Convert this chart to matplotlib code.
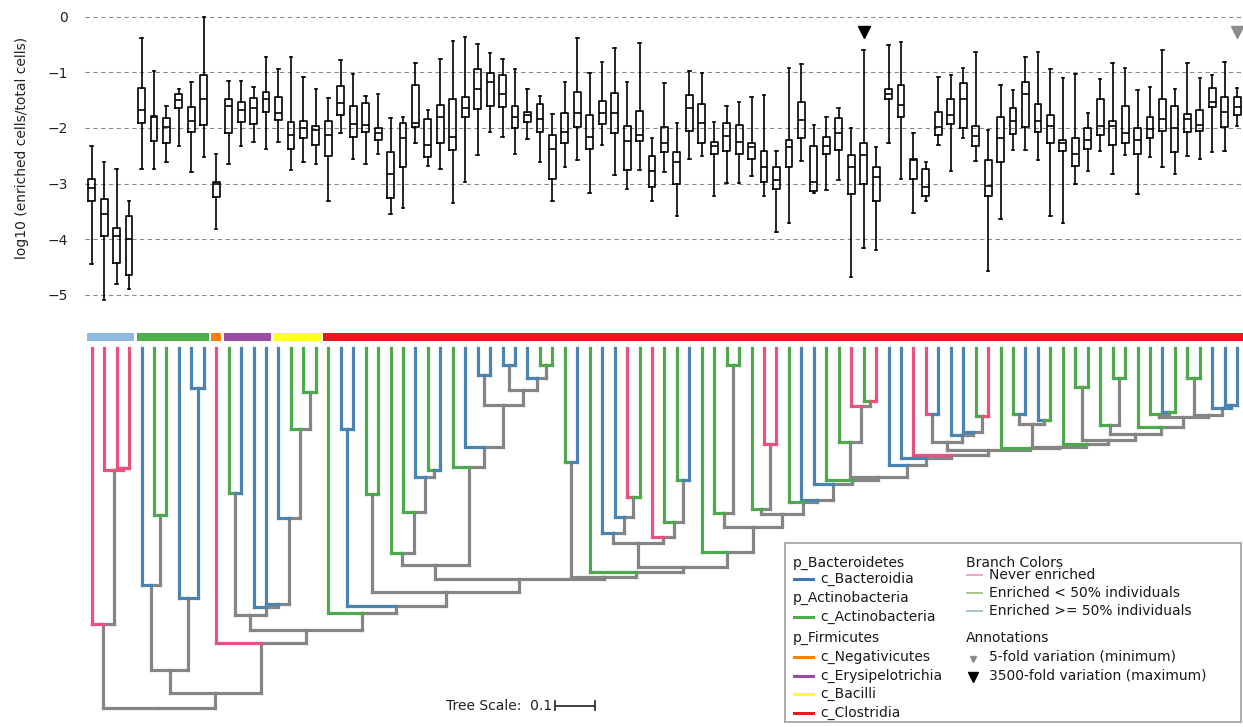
import numpy as np
import matplotlib.pyplot as plt

# ---- boxplot data (log10 enriched/total), one box per leaf, left to right ----
whis_hi = [-2.33, -2.62, -2.74, -3.31, -0.38, -0.97, -1.60, -1.30, -1.17, 0.00,
           -2.47, -1.16, -1.15, -1.26, -0.72, -0.94, -0.73, -1.09, -1.30, -1.46,
           -0.78, -1.04, -1.43, -1.40, -1.83, -1.81, -0.84, -1.68, -0.76, -0.44,
           -0.37, -0.49, -0.65, -0.77, -0.95, -1.31, -1.42, -1.75, -1.17, -0.39,
           -1.01, -0.81, -0.56, -1.17, -0.48, -2.18, -1.20, -1.92, -0.97, -1.02,
           -1.89, -1.61, -1.54, -1.44, -1.41, -2.41, -0.93, -0.86, -1.95, -1.81,
           -1.64, -2.00, -0.60, -2.34, -0.52, -0.45, -2.10, -2.62, -1.09, -1.05,
           -0.93, -0.63, -2.04, -1.23, -1.32, -0.73, -0.63, -0.94, -1.11, -1.03,
           -1.73, -1.12, -0.84, -0.93, -1.32, -1.27, -0.61, -1.31, -0.84, -1.10,
           -1.05, -0.81, -1.28]
q3 = [-2.91, -3.28, -3.80, -3.58, -1.29, -1.78, -1.82, -1.40, -1.62, -1.05,
      -2.98, -1.48, -1.54, -1.47, -1.36, -1.45, -1.89, -1.87, -1.97, -1.87,
      -1.24, -1.61, -1.56, -2.01, -2.43, -1.92, -1.23, -1.84, -1.58, -1.49,
      -1.45, -0.94, -1.01, -1.05, -1.61, -1.71, -1.57, -2.12, -1.73, -1.36,
      -1.76, -1.51, -1.38, -1.97, -1.69, -2.50, -1.99, -2.43, -1.41, -1.57,
      -2.26, -1.92, -1.95, -2.27, -2.41, -2.70, -2.22, -1.53, -2.32, -2.17,
      -1.83, -2.49, -2.27, -2.70, -1.31, -1.23, -2.56, -2.73, -1.72, -1.49,
      -1.20, -1.96, -2.57, -1.80, -1.65, -1.18, -1.57, -1.76, -2.21, -2.18,
      -2.01, -1.48, -1.88, -1.61, -2.00, -1.81, -1.49, -1.61, -1.75, -1.68,
      -1.29, -1.44, -1.44]
med = [-3.08, -3.55, -3.95, -4.00, -1.68, -1.80, -1.99, -1.50, -1.87, -1.49,
       -3.00, -1.61, -1.68, -1.64, -1.48, -1.73, -2.13, -2.01, -2.03, -2.13,
       -1.56, -1.93, -1.95, -2.09, -2.83, -2.19, -1.92, -2.31, -1.80, -2.17,
       -1.65, -1.31, -1.17, -1.40, -1.81, -1.77, -1.84, -2.37, -2.07, -1.74,
       -2.16, -1.74, -1.74, -2.23, -2.13, -2.77, -2.28, -2.62, -1.65, -1.91,
       -2.33, -2.14, -2.26, -2.34, -2.71, -2.94, -2.34, -1.86, -2.98, -2.32,
       -2.10, -2.71, -2.49, -2.89, -1.39, -1.59, -2.58, -3.07, -1.99, -1.77,
       -1.48, -2.15, -3.04, -2.19, -1.87, -1.40, -1.87, -1.96, -2.27, -2.47,
       -2.21, -1.96, -1.97, -2.09, -2.22, -2.02, -1.84, -2.00, -1.84, -1.94,
       -1.53, -1.72, -1.62]
q1 = [-3.32, -3.95, -4.42, -4.64, -1.92, -2.24, -2.28, -1.65, -2.07, -1.95,
      -3.24, -2.10, -1.89, -1.93, -1.71, -1.86, -2.37, -2.19, -2.31, -2.50,
      -1.76, -2.16, -2.07, -2.22, -3.25, -2.71, -1.98, -2.52, -2.27, -2.40,
      -1.81, -1.66, -1.61, -1.62, -2.01, -1.89, -2.07, -2.92, -2.27, -1.99,
      -2.37, -1.93, -2.10, -2.76, -2.24, -3.06, -2.44, -3.01, -2.05, -2.28,
      -2.47, -2.41, -2.47, -2.55, -2.98, -3.10, -2.71, -2.18, -3.14, -2.47,
      -2.40, -3.19, -3.00, -3.31, -1.49, -1.80, -2.92, -3.22, -2.12, -1.93,
      -2.00, -2.33, -3.22, -2.62, -2.11, -1.98, -2.08, -2.28, -2.41, -2.68,
      -2.37, -2.13, -2.31, -2.27, -2.47, -2.19, -2.05, -2.44, -2.07, -2.06,
      -1.63, -1.99, -1.77]
whis_lo = [-4.45, -5.09, -4.81, -4.90, -2.73, -2.73, -2.62, -2.33, -2.79, -2.52,
           -3.81, -2.64, -2.33, -2.26, -2.37, -2.25, -2.76, -2.62, -2.64, -3.32,
           -2.10, -2.56, -2.64, -2.47, -3.55, -3.43, -2.27, -2.68, -2.74, -3.35,
           -2.98, -2.49, -2.07, -2.17, -2.46, -2.20, -2.61, -3.31, -2.71, -2.58,
           -3.17, -2.30, -2.85, -3.10, -2.76, -3.32, -2.80, -3.58, -2.56, -2.50,
           -3.22, -2.99, -2.99, -2.86, -3.22, -3.87, -3.70, -2.59, -3.17, -3.11,
           -2.94, -4.68, -4.15, -4.20, -2.27, -2.92, -3.52, -3.32, -2.31, -2.77,
           -2.18, -2.59, -4.57, -3.64, -2.39, -2.39, -2.58, -3.58, -3.70, -3.01,
           -2.77, -2.41, -2.83, -2.49, -3.19, -2.53, -2.70, -2.83, -2.50, -2.55,
           -2.44, -2.41, -1.96]

# annotated leaves: (leaf index, marker colour)
min_fold_leaf = 92     # 5-fold variation (minimum)
max_fold_leaf = 62     # 3500-fold variation (maximum)

# ---- tree ----
# branch class of each leaf: n = never enriched, l = enriched < 50%, h = >= 50%
leaf_class = list("nnnn" "hllhhh" "n" "lhhh" "hlll"
                  "lhhll" "llhlhlhhhhhhll"
                  "lhlhhnlnllhlllllnnlhh"
                  "llnlnhhnnhhhln"
                  "llhhlllllllllhlllhhh")

# taxonomy bar: (class name, number of leaves)
taxa = [("c_Bacteroidia", 4), ("c_Actinobacteria", 6), ("c_Negativicutes", 1),
        ("c_Erysipelotrichia", 4), ("c_Bacilli", 4), ("c_Clostridia", 74)]
taxa_bar_colors = ["#8fbbe0", "#4daf4a", "#ff7f00", "#984ea3", "#ffff33", "#e41a1c"]

# internal nodes: (name, child, child, depth below leaf tips)
tree_nodes = [
    ("A", 2, 3, 0.298), ("B", 1, "A", 0.304), ("C", 0, "B", 0.689),
    ("D", 5, 6, 0.417), ("E", 4, "D", 0.592), ("F", 8, 9, 0.099),
    ("G", 7, "F", 0.624), ("H", "E", "G", 0.804),
    ("N", 11, 12, 0.361), ("S", 17, 18, 0.109), ("R", 16, "S", 0.202),
    ("Q", 15, "R", 0.424), ("T", 14, "Q", 0.639), ("O", 13, "T", 0.646),
    ("L", "N", "O", 0.667),
    ("U20", 20, 21, 0.202), ("U22", 22, 23, 0.363),
    ("P27", 27, 28, 0.304), ("P26", 26, "P27", 0.321), ("P25", 25, "P26", 0.409),
    ("P24", 24, "P25", 0.513),
    ("P31", 31, 32, 0.067), ("P33", 33, 34, 0.042), ("P36", 36, 37, 0.042),
    ("P35", 35, "P36", 0.073), ("P33b", "P33", "P35", 0.103),
    ("P31b", "P31", "P33b", 0.142), ("P30", 30, "P31b", 0.246),
    ("P29", 29, "P30", 0.296), ("Z1", "P24", "P29", 0.542),
    ("P38", 38, 39, 0.284),
    ("P43", 43, 44, 0.371), ("P42", 42, "P43", 0.421), ("P41", 41, "P42", 0.463),
    ("P47", 47, 48, 0.328), ("P46", 46, "P47", 0.434), ("P45", 45, "P46", 0.471),
    ("Q41", "P41", "P45", 0.488),
    ("P51", 51, 52, 0.042), ("P50", 50, "P51", 0.411),
    ("P54", 54, 55, 0.238), ("P53", 53, "P54", 0.402),
    ("P91", 91, 92, 0.142), ("P90", 90, "P91", 0.150), ("P88", 88, 89, 0.075),
    ("P88b", "P88", "P90", 0.167), ("P86", 86, 87, 0.159), ("P85", 85, "P86", 0.163),
    ("B85", "P85", "P88b", 0.171), ("B84", 84, "B85", 0.196),
    ("P82", 82, 83, 0.075), ("P81", 81, "P82", 0.192), ("B81", "P81", "B84", 0.213),
    ("P79", 79, 80, 0.096), ("B79", "P79", "B81", 0.229), ("B78", 78, "B79", 0.238),
    ("P74a", 74, 75, 0.163), ("P76", 76, 77, 0.179), ("P74", "P74a", "P76", 0.188),
    ("B74", "P74", "B78", 0.246), ("B73", 73, "B74", 0.250),
    ("P71", 71, 72, 0.169), ("P70", 70, "P71", 0.209), ("P69", 69, "P70", 0.217),
    ("P67a", 67, 68, 0.165), ("P67", "P67a", "P69", 0.234),
    ("B67", "P67", "B73", 0.254), ("B66", 66, "B67", 0.267),
    ("B65", 65, "B66", 0.275), ("B64", 64, "B65", 0.292),
    ("P62", 62, 63, 0.132), ("P61", 61, "P62", 0.144), ("P60", 60, "P61", 0.234),
    ("B60", "P60", "B64", 0.321), ("B59", 59, "B60", 0.328),
    ("B58", 58, "B59", 0.338), ("B57", 57, "B58", 0.379), ("B56", 56, "B57", 0.384),
    ("Q53", "P53", "B56", 0.413), ("Q50", "P50", "Q53", 0.446),
    ("Q49", 49, "Q50", 0.509), ("Q41b", "Q41", "Q49", 0.546),
    ("Q40", 40, "Q41b", 0.559), ("Q38", "P38", "Q40", 0.571),
    ("Z2", "Z1", "Q38", 0.578), ("Z3", "U22", "Z2", 0.609),
    ("Z4", "U20", "Z3", 0.644), ("M", 19, "Z4", 0.662),
    ("K", "L", "M", 0.704), ("J", 10, "K", 0.737),
    ("I", "H", "J", 0.861), ("root", "C", "I", 0.900),
]
# internal branches that carry a class colour (all others grey)
node_class = {"A": "n", "F": "h", "U20": "h", "P91": "h"}
tree_scale = 0.1

branch_colors = {"n": "#e9517f", "l": "#4ea84e", "h": "#4b84b1", "g": "#858585"}

W, H = 1243, 727
fig = plt.figure(figsize=(W / 100, H / 100), dpi=100)
plt.rcParams['font.family'] = ['DejaVu Sans']
xlim = (-0.54, 92.47)

# ---------------- boxplots ----------------
ax = fig.add_axes([85 / W, 1 - 305 / H, 1158 / W, 295 / H])
stats = [dict(med=m, q1=a, q3=b, whislo=lo, whishi=hi)
         for m, a, b, lo, hi in zip(med, q1, q3, whis_lo, whis_hi)]
lp = dict(color='black', linewidth=1.2)
ax.bxp(stats, positions=np.arange(len(stats)), widths=0.55, capwidths=0.2,
       showfliers=False, boxprops=lp, whiskerprops=lp, capprops=lp,
       medianprops=dict(color='black', linewidth=1.2), manage_ticks=False)
ax.plot(max_fold_leaf, -0.28, 'v', color='black', markersize=9, clip_on=False)
ax.plot(min_fold_leaf, -0.28, 'v', color='#8c8c8c', markersize=9, clip_on=False)
ax.set_xlim(*xlim)
ax.set_ylim(-5.18, 0.117)
ax.set_yticks([0, -1, -2, -3, -4, -5])
ax.set_xticks([])
ax.yaxis.grid(True, linestyle=(0, (4, 3)), color='#8a8a8a', linewidth=0.8)
ax.set_axisbelow(True)
ax.tick_params(axis='y', length=0, pad=12, labelsize=10, labelcolor='#222222')
for sp in ax.spines.values():
    sp.set_visible(False)
fig.text(22 / W, 1 - 148 / H, 'log10 (enriched cells/total cells)', rotation=90,
         ha='center', va='center', fontsize=10, color='#222222')

# ---------------- tree ----------------
axt = fig.add_axes([85 / W, 0, 1158 / W, 407 / H])
tree_ylim = (0.9468, -0.0708)
axt.set_xlim(*xlim)
axt.set_ylim(*tree_ylim)
axt.axis('off')

pos = {i: float(i) for i in range(len(leaf_class))}
depth = {i: 0.0 for i in range(len(leaf_class))}
cls = {i: c for i, c in enumerate(leaf_class)}
parent = {}
for name, a, b, d in tree_nodes:
    pos[name] = (pos[a] + pos[b]) / 2
    depth[name] = d
    cls[name] = node_class.get(name, 'g')
    parent[a] = name
    parent[b] = name

lw = 2.3
for node, par in parent.items():
    c = cls[node]
    z = 1 if c == 'g' else 2
    col = branch_colors[c]
    # vertical stem from node down to its parent
    axt.plot([pos[node], pos[node]], [depth[node], depth[par]], color=col, lw=lw,
             solid_capstyle='projecting', zorder=z)
    # half of the parent's connector
    axt.plot([pos[node], pos[par]], [depth[par], depth[par]], color=col, lw=lw,
             solid_capstyle='projecting', zorder=z)

# taxonomy colour strip
start = 0
for (name, n), col in zip(taxa, taxa_bar_colors):
    right_pad = 0.47 if start + n == len(leaf_class) else 0.4
    axt.bar(start - 0.4, -0.02, width=n - 1 + 0.4 + right_pad, bottom=-0.01825,
            align='edge', color=col, linewidth=0)
    start += n

# tree scale bar
bb = axt.get_window_extent()
px_per_x = bb.width / (xlim[1] - xlim[0])
px_per_d = bb.height / (tree_ylim[0] - tree_ylim[1])
bar_len = tree_scale * px_per_d / px_per_x
sx, sy = 37.25, 0.894
axt.plot([sx, sx + bar_len], [sy, sy], color='#333333', lw=1.3)
for xx in (sx, sx + bar_len):
    axt.plot([xx, xx], [sy - 0.011, sy + 0.011], color='#333333', lw=1.3)
axt.text(sx - 0.25, sy, 'Tree Scale:  0.1', ha='right', va='center',
         fontsize=10, color='#222222')

# ---------------- legend box ----------------
axl = fig.add_axes([785 / W, 1 - 722 / H, 456 / W, 179 / H])
axl.set_xlim(0, 456)
axl.set_ylim(179, 0)
axl.set_xticks([])
axl.set_yticks([])
for sp in axl.spines.values():
    sp.set_color('#a8a8a8')
    sp.set_linewidth(1.3)

tax_legend = [("p_Bacteroidetes", None), ("c_Bacteroidia", "#3f78b5"),
              ("p_Actinobacteria", None), ("c_Actinobacteria", "#4daf4a"),
              ("p_Firmicutes", None), ("c_Negativicutes", "#ff7f00"),
              ("c_Erysipelotrichia", "#984ea3"), ("c_Bacilli", "#ffff33"),
              ("c_Clostridia", "#e41a1c")]
tax_rows = [20, 36, 55, 74, 95, 114, 132.5, 151, 169.5]
for (label, col), y in zip(tax_legend, tax_rows):
    if col is None:
        axl.text(8, y, label, ha='left', va='center', fontsize=10, color='#1a1a1a')
    else:
        axl.plot([9, 28], [y, y], color=col, lw=2.2)
        axl.text(35, y, label, ha='left', va='center', fontsize=10, color='#1a1a1a')

axl.text(181, 20, 'Branch Colors', ha='left', va='center', fontsize=10, color='#1a1a1a')
branch_legend = [("Never enriched", "#f3a3bd", 32),
                 ("Enriched < 50% individuals", "#a9c98f", 50.3),
                 ("Enriched >= 50% individuals", "#a6c2cc", 68)]
for label, col, y in branch_legend:
    axl.plot([182, 197], [y, y], color=col, lw=1.4)
    axl.text(204, y, label, ha='left', va='center', fontsize=10, color='#1a1a1a')
axl.text(181, 95, 'Annotations', ha='left', va='center', fontsize=10, color='#1a1a1a')
axl.plot(188, 116, 'v', color='#8c8c8c', markersize=5)
axl.text(204, 114, '5-fold variation (minimum)', ha='left', va='center',
         fontsize=10, color='#1a1a1a')
axl.plot(188, 134, 'v', color='black', markersize=7)
axl.text(204, 132.5, '3500-fold variation (maximum)', ha='left', va='center',
         fontsize=10, color='#1a1a1a')

fig.savefig('out.png', dpi=100)
